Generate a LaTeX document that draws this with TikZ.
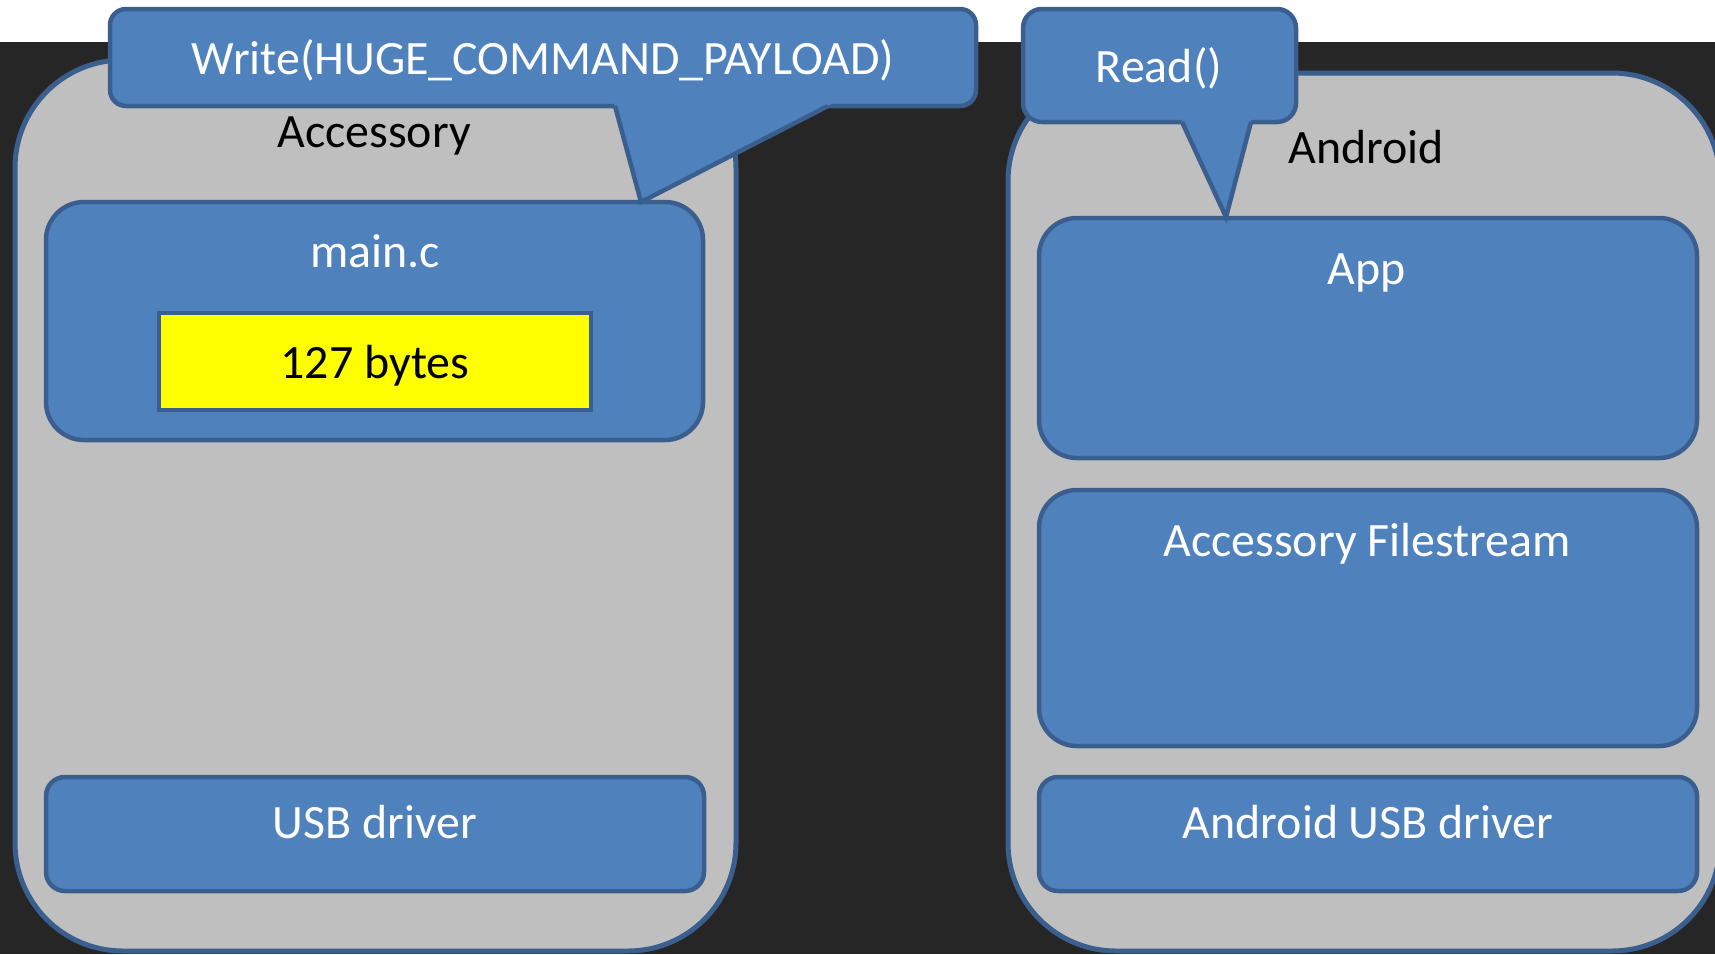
\documentclass[tikz,border=0pt]{standalone}
\usepackage{fontspec}
\setmainfont{Carlito}
\definecolor{bgdark}{HTML}{262626}
\definecolor{boxblue}{HTML}{4F81BD}
\definecolor{edgeblue}{HTML}{3A5F8E}
\definecolor{panelgray}{HTML}{BFBFBF}
\definecolor{hiyellow}{HTML}{FFFF00}
\tikzset{
  panel/.style={fill=panelgray, draw=edgeblue, line width=5pt, rounded corners=108pt, inner sep=0pt},
  layer/.style={fill=boxblue, draw=edgeblue, line width=4.5pt, inner sep=0pt},
  hibox/.style={fill=hiyellow, draw=edgeblue, line width=4.5pt, inner sep=0pt},
  calloutbox/.style={fill=boxblue, draw=edgeblue, line width=4.5pt, inner sep=0pt},
  edgeline/.style={draw=edgeblue, line width=4.5pt, line join=miter},
  lbl/.style={font=\fontsize{47.9}{57}\selectfont, anchor=base, inner sep=0pt},
  wlbl/.style={lbl, text=white},
  blbl/.style={lbl, text=black}
}
\begin{document}
\begin{tikzpicture}[x=1pt,y=-1pt]
\useasboundingbox (0,0) rectangle (1715,954);
\clip (0,0) rectangle (1715,954);
% background
\fill[white] (0,0) rectangle (1715,42);
\fill[bgdark] (0,42) rectangle (1715,954);
% panels
\node[panel, minimum width=721pt, minimum height=891pt] (accpanel) at (375.5,505.5) {};
\node[panel, minimum width=712pt, minimum height=878pt] (andpanel) at (1364,512) {};
% accessory layers
\node[layer, rounded corners=38pt, minimum width=657pt, minimum height=238pt] (mainc) at (374.5,321) {};
\node[hibox, minimum width=432pt, minimum height=97pt] (bytes) at (375,361.5) {};
\node[layer, rounded corners=19pt, minimum width=658pt, minimum height=114pt] (usb) at (375,834) {};
% android layers
\node[layer, rounded corners=38pt, minimum width=658pt, minimum height=240pt] (app) at (1368,338) {};
\node[layer, rounded corners=38pt, minimum width=658pt, minimum height=256pt] (stream) at (1368,618) {};
\node[layer, rounded corners=19pt, minimum width=658pt, minimum height=114pt] (ausb) at (1368,834) {};
% write callout
\node[calloutbox, rounded corners=16pt, minimum width=866pt, minimum height=97pt] (write) at (543,57.5) {};
\coordinate (wtip) at (641,202);
\fill[boxblue] (612,100) -- (615,106) -- (wtip) -- (828,106) -- (838,100) -- cycle;
\draw[edgeline] (615,106) -- (wtip) -- (828,106);
% read callout
\node[calloutbox, rounded corners=19pt, minimum width=273pt, minimum height=113pt] (read) at (1159.5,65.5) {};
\coordinate (rtip) at (1226,217);
\fill[boxblue] (1180,116) -- (1182,122) -- (rtip) -- (1251,122) -- (1253,116) -- cycle;
\draw[edgeline] (1182,122) -- (rtip) -- (1251,122);
% labels
\node[wlbl] (twrite) at (543,74) {Write(HUGE\_COMMAND\_PAYLOAD)};
\node[blbl] (tacc) at (374,147) {Accessory};
\node[wlbl] (tmain) at (375,267) {main.c};
\node[blbl] (tbytes) at (375,378) {127 bytes};
\node[wlbl] (tusb) at (375,838) {USB driver};
\node[wlbl] (tread) at (1159,82) {Read()};
\node[blbl] (tand) at (1366,163) {Android};
\node[wlbl] (tapp) at (1367,284) {App};
\node[wlbl] (tstream) at (1367,556) {Accessory Filestream};
\node[wlbl] (tausb) at (1368,838) {Android USB driver};
\end{tikzpicture}
\end{document}
